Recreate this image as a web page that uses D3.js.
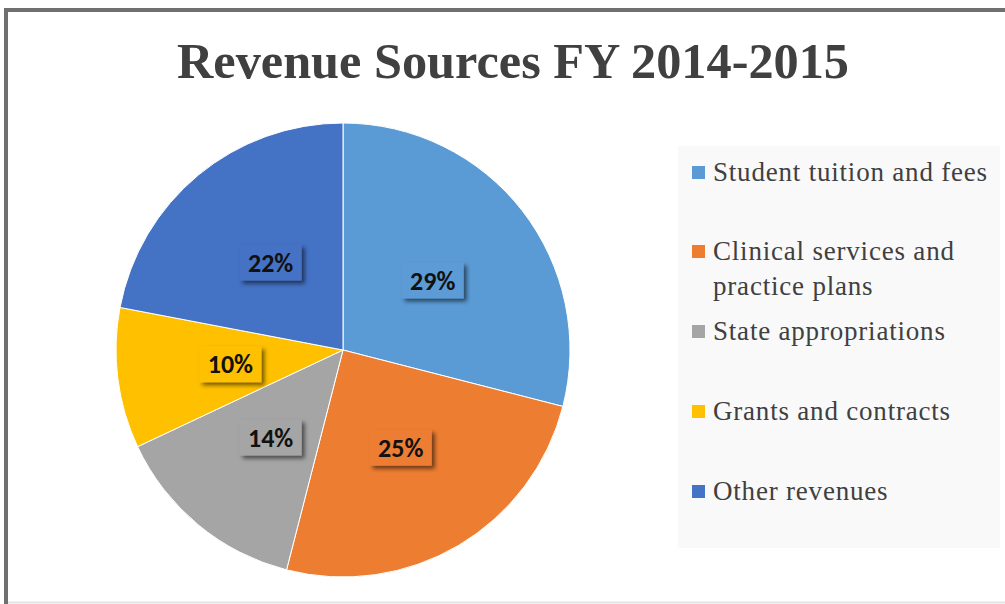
<!DOCTYPE html>
<html>
<head>
<meta charset="utf-8">
<script src="https://cdn.jsdelivr.net/npm/d3@7"></script>
<style>
  body { margin: 0; background: #fff; }
  svg { display: block; }
</style>
</head>
<body>
<svg id="chart" width="1005" height="604"></svg>
<script>
// data
const categories = ['Student tuition and fees', 'Clinical services and practice plans',
  'State appropriations', 'Grants and contracts', 'Other revenues'];
const shares = [29, 25, 14, 10, 22];
const colors = ['#5B9BD5', '#ED7D31', '#A5A5A5', '#FFC000', '#4472C4'];
// legend text split the way it wraps in the picture
const legendLines = [['Student tuition and fees'], ['Clinical services and', 'practice plans'],
  ['State appropriations'], ['Grants and contracts'], ['Other revenues']];

const data = categories.map((c, i) => ({name: c, value: shares[i], color: colors[i], lines: legendLines[i]}));

const svg = d3.select('#chart');

// drop shadow for the value boxes
const defs = svg.append('defs');
defs.append('filter')
  .attr('id', 'shadow')
  .attr('x', '-30%').attr('y', '-30%')
  .attr('width', '160%').attr('height', '160%')
  .append('feDropShadow')
  .attr('dx', 3).attr('dy', 3)
  .attr('stdDeviation', 2)
  .attr('flood-color', '#000')
  .attr('flood-opacity', 0.55);

// frame
svg.append('line')
  .attr('x1', 4).attr('x2', 1005).attr('y1', 10).attr('y2', 10)
  .attr('stroke', '#707070').attr('stroke-width', 4);
svg.append('line')
  .attr('x1', 6).attr('x2', 6).attr('y1', 8).attr('y2', 604)
  .attr('stroke', '#707070').attr('stroke-width', 4);
svg.append('line')
  .attr('x1', 8).attr('x2', 1005).attr('y1', 602.5).attr('y2', 602.5)
  .attr('stroke', '#e4e4e4').attr('stroke-width', 2);

// title
svg.append('text')
  .attr('x', 513).attr('y', 78)
  .attr('text-anchor', 'middle')
  .attr('font-family', '"Liberation Serif", "Times New Roman", serif')
  .attr('font-weight', 'bold')
  .attr('font-size', 50.3)
  .attr('fill', '#404040')
  .text('Revenue Sources FY 2014-2015');

// pie
const cx = 343, cy = 350, R = 227;
const pie = d3.pie().value(d => d.value).sort(null);
const arc = d3.arc().innerRadius(0).outerRadius(R);
const arcs = pie(data);

const g = svg.append('g').attr('transform', `translate(${cx},${cy})`);

g.selectAll('path.slice')
  .data(arcs)
  .enter().append('path')
  .attr('class', 'slice')
  .attr('d', arc)
  .attr('fill', d => d.data.color)
  .attr('stroke', '#fff')
  .attr('stroke-width', 1);

// value labels in shadowed boxes
const labels = g.selectAll('g.label')
  .data(arcs)
  .enter().append('g')
  .attr('class', 'label')
  .attr('transform', d => {
    const c = arc.centroid(d);
    return `translate(${c[0]},${c[1]})`;
  });

labels.append('rect')
  .attr('x', -31).attr('y', -18)
  .attr('width', 62).attr('height', 36)
  .attr('fill', d => d.data.color)
  .attr('filter', 'url(#shadow)');

labels.append('text')
  .attr('text-anchor', 'middle')
  .attr('dy', '0.35em')
  .attr('font-family', 'Carlito, "Open Sans", sans-serif')
  .attr('font-weight', 'bold')
  .attr('font-size', 26)
  .attr('fill', '#111')
  .text(d => d.data.value + '%');

// legend
svg.append('rect')
  .attr('x', 678).attr('y', 146)
  .attr('width', 322).attr('height', 402)
  .attr('fill', '#f9f9f9');

const legendY = [173, 252, 332, 412, 492];

const items = svg.selectAll('g.legend')
  .data(data)
  .enter().append('g')
  .attr('class', 'legend')
  .attr('transform', (d, i) => `translate(692,${legendY[i]})`);

items.append('rect')
  .attr('x', 0).attr('y', -7)
  .attr('width', 13).attr('height', 13)
  .attr('fill', d => d.color);

items.each(function(d) {
  const t = d3.select(this).append('text')
    .attr('font-family', '"Liberation Serif", "Times New Roman", serif')
    .attr('font-size', 27)
    .attr('letter-spacing', 0.8)
    .attr('fill', '#404040');
  d.lines.forEach((line, j) => {
    t.append('tspan')
      .attr('x', 21)
      .attr('y', 8 + j * 35)
      .text(line);
  });
});
</script>
</body>
</html>
